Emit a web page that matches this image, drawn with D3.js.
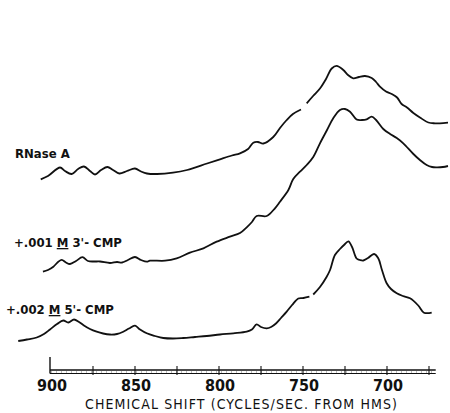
<!DOCTYPE html>
<html>
<head>
<meta charset="utf-8">
<script src="https://cdn.jsdelivr.net/npm/d3@7"></script>
<style>
body { margin: 0; background: #fff; }
text { font-family: "DejaVu Sans Condensed", "Liberation Sans Narrow", "DejaVu Sans", sans-serif; font-stretch: condensed; fill: #111; }
</style>
</head>
<body>
<svg id="chart"></svg>
<script>
var svg_width = 450
var svg_height = 413

// chemical shift (cycles/sec from HMS), intensity in arbitrary units; null = pen gap
var rnaseShift = [906.1, 901.8, 894.6, 891.7, 887.7, 883.9, 880.4, 876.8, 873.8, 870.2, 866.4, 863.1, 859.3, 854.8, 850, 846.4, 842.9, 836.9, 827.4, 819, 807.1, 799.4, 792.3, 787.5, 782.7, 779.6, 776.8, 773.6, 767.7, 763.7, 759.7, 756, 751.2, 749, 747.8, 744, 739.9, 736.3, 732.9, 730, 726, 723.2, 720.1, 716.7, 713.1, 709.1, 706.5, 704.2, 700.6, 697.2, 694, 691.3, 688.1, 684.3, 680.4, 675.4, 671.4, 668.5, 663.7]
var rnaseInt = [0.7, 4, 12.5, 9, 6, 11, 13.5, 9, 5.5, 10, 13, 10, 6.5, 9, 11.5, 8.5, 6.5, 6, 7.3, 10, 16.5, 20.7, 24.5, 26.7, 31, 37.3, 38, 36.5, 43, 52, 60, 66, 70.5, null, 76.7, 84, 91.5, 101, 111.5, 114.2, 110, 105, 101.7, 103, 104, 102, 98, 93.3, 88.5, 86, 82.5, 76, 72.5, 67, 62.5, 57.5, 56.7, 56.7, 57.3]

var cmp3Shift = [904.8, 901.8, 898.6, 895.8, 893.6, 891.1, 888.7, 885.1, 881.3, 878, 874.4, 870.8, 864.9, 860.7, 857.7, 854.2, 850, 846.4, 842.9, 841.1, 832.1, 825.2, 817.3, 809.3, 801.4, 793.5, 787.5, 783.5, 780.4, 777.6, 771.6, 766.7, 763.7, 758.7, 755.8, 751.8, 747.8, 743.9, 739.9, 735.7, 732, 728, 725, 722, 718.1, 714.9, 712.1, 709.1, 706.5, 702.2, 698.2, 694.2, 690.3, 684.3, 680.4, 676.4, 673.2, 670.4, 666.7, 663.7]
var cmp3Int = [-0.7, 1, 4.3, 9, 11.2, 8.5, 7, 10, 13.8, 10, 9.5, 9.5, 8, 9, 8.5, 11, 14, 11, 9.3, 10.3, 10.3, 12.7, 18.3, 22.7, 29.3, 34.3, 38, 43.7, 49, 55, 55, 62.7, 69.3, 81, 92, 99.3, 106, 114, 127.7, 141, 152.7, 161, 162, 159.3, 151.5, 151, 151.7, 154.3, 151, 142, 137, 133, 127.7, 117, 111, 106, 104, 103.7, 104, 105]

var cmp5Shift = [919.5, 914.3, 908.5, 904.2, 900.6, 896.4, 892.7, 889.7, 886.3, 883.3, 880.4, 876.8, 872.8, 869, 864.9, 860.7, 857, 853.6, 850, 847, 843, 838.1, 833.2, 827.4, 821.3, 814.3, 807.3, 799.4, 791.5, 783.5, 780.4, 777.6, 775, 771.6, 769, 766.1, 763.1, 759.7, 756.5, 752.8, 749.7, 746.2, 744.5, 743.9, 739.9, 735.9, 733.9, 731, 728, 725.6, 723, 720.8, 718.1, 716.1, 714.1, 711.3, 707.7, 705.2, 703, 700.2, 697.6, 694.2, 690.5, 686.3, 681.4, 678, 673.4]
var cmp5Int = [-1, 0.5, 2.5, 6, 10.5, 16, 19.5, 17.5, 20.5, 18, 14.5, 11, 8.3, 6.5, 5.5, 6, 8.3, 11.5, 14.3, 10.5, 6.7, 4, 2, 1.5, 2, 3, 4, 5.5, 6.7, 8.3, 10.5, 15.7, 13, 11.7, 13, 16.5, 22, 28.3, 35, 41.5, 42, 43.3, null, 45.5, 53, 63.3, 70, 85, 91, 95, 98.7, 93, 81.5, 80, 79.5, 82, 86, 81.7, 70, 56.7, 51, 46.7, 44, 41.7, 34.5, 27.3, 27.3]

// vertical displacement of each stacked trace, same units as intensity
var traceOffsets = [160, 69, 0]
var majorTicks = [900, 850, 800, 750, 700]
var minorTicks = [875, 825, 775, 725, 675]
var axisTitle = "CHEMICAL SHIFT (CYCLES/SEC. FROM HMS)"

var traces = [
  { shift: rnaseShift, val: rnaseInt, off: traceOffsets[0] },
  { shift: cmp3Shift, val: cmp3Int, off: traceOffsets[1] },
  { shift: cmp5Shift, val: cmp5Int, off: traceOffsets[2] }
]

var svg = d3.select("#chart")
.attr("width", svg_width)
.attr("height", svg_height)

var x = d3.scaleLinear().domain([900, 675]).range([51, 429])
var y = d3.scaleLinear().domain([0, 300]).range([340, 40])

var line = d3.line()
.defined(function(d) { return d.v !== null; })
.x(function(d) { return x(d.s); })
.y(function(d) { return y(d.v + d.o); })
.curve(d3.curveCatmullRom.alpha(0.5))

traces.forEach(function(t) {
  var pts = t.shift.map(function(s, i) { return { s: s, v: t.val[i], o: t.off }; })
  svg.append("path")
  .datum(pts)
  .attr("d", line)
  .attr("fill", "none")
  .attr("stroke", "#111")
  .attr("stroke-width", 1.8)
  .attr("stroke-linejoin", "round")
})

// trace labels
var lab1 = svg.append("text").attr("x", 15).attr("y", y(traceOffsets[0] + 22))
.attr("font-size", 13).attr("font-weight", "bold").text("RNase A")

var lab2 = svg.append("text").attr("x", 14).attr("y", y(traceOffsets[1] + 24))
.attr("font-size", 13).attr("font-weight", "bold")
lab2.append("tspan").text("+.001 ")
lab2.append("tspan").attr("text-decoration", "underline").text("M")
lab2.append("tspan").text(" 3'- CMP")

var lab3 = svg.append("text").attr("x", 6).attr("y", y(traceOffsets[2] + 26))
.attr("font-size", 13).attr("font-weight", "bold")
lab3.append("tspan").text("+.002 ")
lab3.append("tspan").attr("text-decoration", "underline").text("M")
lab3.append("tspan").text(" 5'- CMP")

// axis: double rule with crossing ticks
var axisY = 370
var ax = svg.append("g")
ax.append("line").attr("x1", x(900) - 1).attr("x2", x(671)).attr("y1", axisY).attr("y2", axisY)
.attr("stroke", "#111").attr("stroke-width", 1.4)
ax.append("line").attr("x1", x(900) - 1).attr("x2", x(671)).attr("y1", axisY + 3.5).attr("y2", axisY + 3.5)
.attr("stroke", "#111").attr("stroke-width", 1.1)
ax.append("line").attr("x1", x(900)).attr("x2", x(671)).attr("y1", axisY + 2).attr("y2", axisY + 2)
.attr("stroke", "#555").attr("stroke-width", 0.8).attr("stroke-dasharray", "1,4")
ax.append("line").attr("x1", x(900) - 1).attr("x2", x(900) - 1).attr("y1", axisY - 13).attr("y2", axisY + 3.5)
.attr("stroke", "#111").attr("stroke-width", 1.4)

ax.selectAll(".tick")
.data(majorTicks.concat(minorTicks).filter(function(d) { return d !== 900; }))
.enter()
.append("line")
.attr("x1", function(d) { return x(d); })
.attr("x2", function(d) { return x(d); })
.attr("y1", axisY - 4)
.attr("y2", axisY + 5)
.attr("stroke", "#111")
.attr("stroke-width", 1.1)

ax.selectAll(".ticklabel")
.data(majorTicks)
.enter()
.append("text")
.attr("x", function(d) { return x(d) + 1; })
.attr("y", 391)
.attr("text-anchor", "middle")
.attr("font-size", 16)
.attr("font-weight", "bold")
.text(function(d) { return d; })

svg.append("text")
.attr("x", 241)
.attr("y", 409)
.attr("text-anchor", "middle")
.attr("font-size", 14)
.attr("textLength", 312)
.attr("lengthAdjust", "spacing")
.text(axisTitle)
</script>
</body>
</html>
